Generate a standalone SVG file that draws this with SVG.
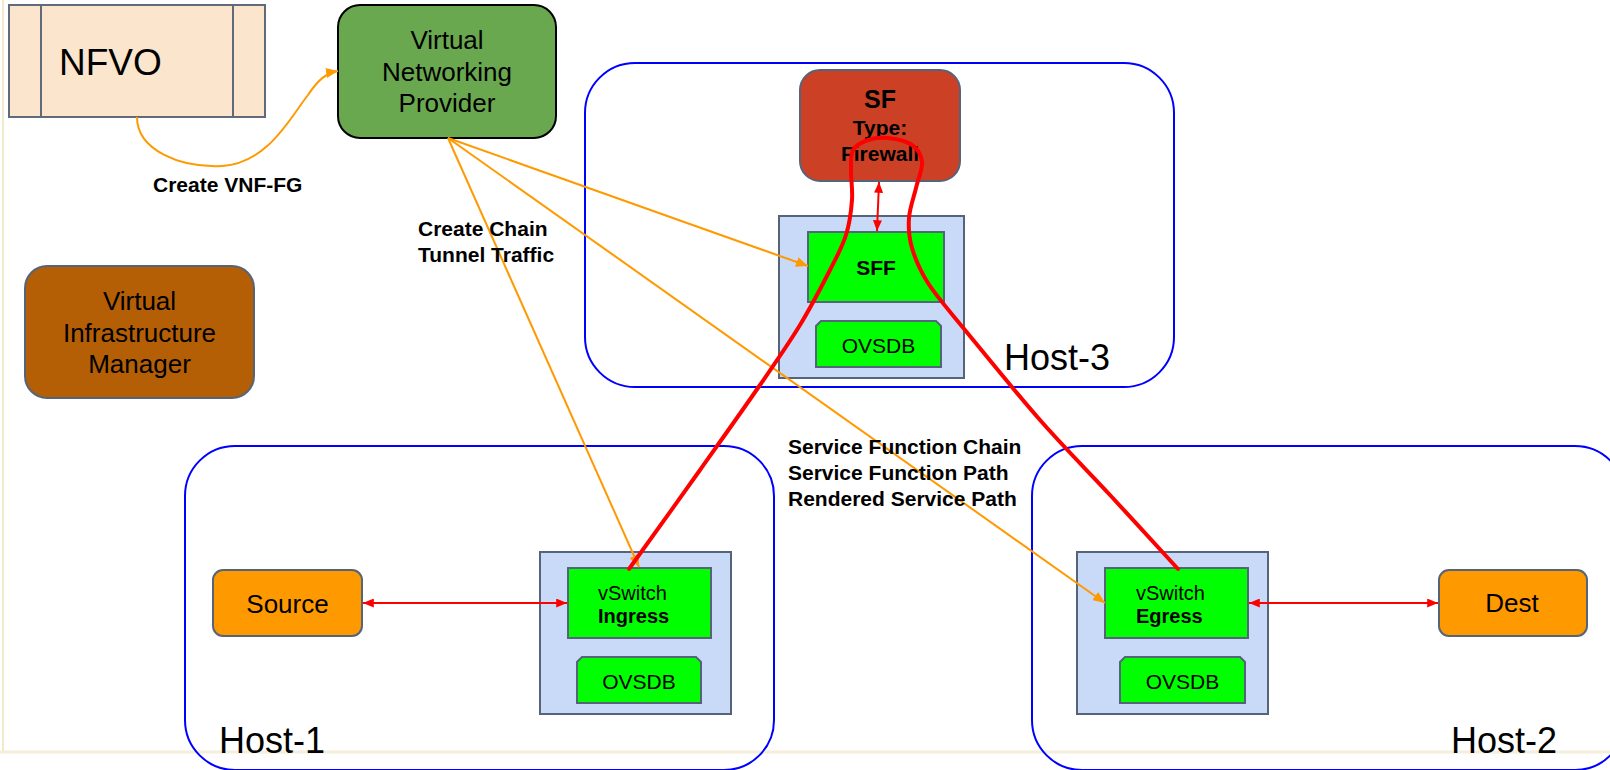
<svg xmlns="http://www.w3.org/2000/svg" width="1610" height="770" viewBox="0 0 1610 770">
<style>
.t{font-family:"Liberation Sans",Arial,sans-serif;fill:#000}
.b{font-weight:bold}
.host{fill:none;stroke:#0000ff;stroke-width:2}
.node{stroke:#56647a;stroke-width:2}
.box{fill:#c9daf8;stroke:#56647a;stroke-width:2}
.grn{fill:#00ff00;stroke:#56647a;stroke-width:2}
.org{fill:none;stroke:#ff9900;stroke-width:2}
.red{fill:none;stroke:#ff0000;stroke-width:2}
</style>
<defs>
<marker id="ao" viewBox="0 0 12 10" refX="12" refY="5" markerWidth="12" markerHeight="10" markerUnits="userSpaceOnUse" orient="auto"><path d="M0,0 L12,5 L0,10 Z" fill="#ff9900"/></marker>
<marker id="ar" viewBox="0 0 12 10" refX="12" refY="5" markerWidth="12" markerHeight="9" markerUnits="userSpaceOnUse" orient="auto-start-reverse"><path d="M0,0 L12,5 L0,10 Z" fill="#ff0000"/></marker>
</defs>
<rect width="1610" height="770" fill="#ffffff"/>
<line x1="3" y1="0" x2="3" y2="752" stroke="#f2e8cc" stroke-width="2"/>
<line x1="0" y1="752" x2="1610" y2="752" stroke="#f5eedb" stroke-width="3"/>

<g id="host3"><rect class="host" x="585" y="63" width="589" height="324" rx="50"/><text class="t" x="1004" y="370" font-size="36">Host-3</text></g>
<g id="host1"><rect class="host" x="185" y="446" width="589" height="324" rx="50"/><text class="t" x="219" y="753" font-size="36">Host-1</text></g>
<g id="host2"><rect class="host" x="1032" y="446" width="593" height="324" rx="50"/><text class="t" x="1451" y="753" font-size="36">Host-2</text></g>

<g id="nfvo"><rect x="9" y="5" width="256" height="112" fill="#fce5cd" stroke="#5f6b7b" stroke-width="2"/><line x1="41" y1="5" x2="41" y2="117" stroke="#5f6b7b" stroke-width="2"/><line x1="233" y1="5" x2="233" y2="117" stroke="#5f6b7b" stroke-width="2"/><text class="t" x="59" y="75" font-size="37">NFVO</text></g>

<g id="vnp"><rect x="338" y="5" width="218" height="133" rx="22" fill="#6aa84f" stroke="#000" stroke-width="2"/><text class="t" x="447" y="49" font-size="26" text-anchor="middle">Virtual</text><text class="t" x="447" y="81" font-size="26" text-anchor="middle">Networking</text><text class="t" x="447" y="112" font-size="26" text-anchor="middle">Provider</text></g>

<g id="vim"><rect class="node" x="25" y="266" width="229" height="132" rx="22" fill="#b45f06"/><text class="t" x="139.5" y="310" font-size="26" text-anchor="middle">Virtual</text><text class="t" x="139.5" y="342" font-size="26" text-anchor="middle">Infrastructure</text><text class="t" x="139.5" y="373" font-size="26" text-anchor="middle">Manager</text></g>

<g id="sf"><rect class="node" x="800" y="70" width="160" height="111" rx="20" fill="#cc4125"/><text class="t b" x="880" y="108" font-size="25" text-anchor="middle">SF</text><text class="t b" x="880" y="135" font-size="21" text-anchor="middle">Type:</text><text class="t b" x="880" y="161" font-size="21" text-anchor="middle">Firewall</text></g>

<g id="sff-host"><rect class="box" x="779" y="216" width="185" height="162"/></g>
<g id="sff"><rect class="grn" x="808" y="232" width="136" height="70"/><text class="t b" x="876" y="275" font-size="21" text-anchor="middle">SFF</text></g>
<g id="ovsdb3"><path class="grn" d="M821,321 H936 L941,326 V367 H816 V326 Z"/><text class="t" x="878.5" y="353" font-size="21" text-anchor="middle">OVSDB</text></g>

<g id="source"><rect class="node" x="213" y="570" width="149" height="66" rx="10" fill="#ff9900"/><text class="t" x="287.5" y="613" font-size="26" text-anchor="middle">Source</text></g>
<g id="ingress-host"><rect class="box" x="540" y="552" width="191" height="162"/></g>
<g id="ingress"><rect class="grn" x="568" y="568" width="143" height="70"/><text class="t" x="598" y="600" font-size="20">vSwitch</text><text class="t b" x="598" y="623" font-size="20">Ingress</text></g>
<g id="ovsdb1"><path class="grn" d="M582,657 H696 L701,662 V703 H577 V662 Z"/><text class="t" x="639" y="689" font-size="21" text-anchor="middle">OVSDB</text></g>

<g id="egress-host"><rect class="box" x="1077" y="552" width="191" height="162"/></g>
<g id="egress"><rect class="grn" x="1105" y="568" width="143" height="70"/><text class="t" x="1136" y="600" font-size="20">vSwitch</text><text class="t b" x="1136" y="623" font-size="20">Egress</text></g>
<g id="ovsdb2"><path class="grn" d="M1125,657 H1240 L1245,662 V703 H1120 V662 Z"/><text class="t" x="1182.5" y="689" font-size="21" text-anchor="middle">OVSDB</text></g>
<g id="dest"><rect class="node" x="1439" y="570" width="148" height="66" rx="10" fill="#ff9900"/><text class="t" x="1512" y="612" font-size="26" text-anchor="middle">Dest</text></g>

<g id="connectors">
<path class="org" d="M137,117 C137,150 180,168 222,166 C268,163 290,118 308,95 C318,80 326,73 338,71" marker-end="url(#ao)"/>
<line class="org" x1="448" y1="138" x2="808" y2="266" marker-end="url(#ao)"/>
<line class="org" x1="448" y1="138" x2="1105" y2="603" marker-end="url(#ao)"/>
<line class="org" x1="448" y1="138" x2="639" y2="567" stroke-width="1.5" marker-end="url(#ao)"/>
<line class="red" x1="879" y1="182" x2="877" y2="231" marker-start="url(#ar)" marker-end="url(#ar)"/>
<line class="red" x1="363" y1="603" x2="567" y2="603" marker-start="url(#ar)" marker-end="url(#ar)"/>
<line class="red" x1="1249" y1="603" x2="1438" y2="603" marker-start="url(#ar)" marker-end="url(#ar)"/>
<path fill="none" stroke="#ff0000" stroke-width="4" stroke-linecap="round" d="M629,569 C640.8,552.5 678.2,500.7 700,470 C721.8,439.3 743.3,409.2 760,385 C776.7,360.8 788.3,344.2 800,325 C811.7,305.8 822.3,285 830,270 C837.7,255 842.3,246.7 846,235 C849.7,223.3 851.2,210.8 852,200 C852.8,189.2 850.8,178.3 851,170 C851.2,161.7 850.2,155 853,150 C855.8,145 862.2,142 868,140 C873.8,138 880.7,137.2 888,138 C895.3,138.8 906.3,141 912,145 C917.7,149 921.3,154.8 922,162 C922.7,169.2 918.2,178.7 916,188 C913.8,197.3 909.7,208 909,218 C908.3,228 908.8,237.2 912,248 C915.2,258.8 919.2,269.3 928,283 C936.8,296.7 946.3,307.2 965,330 C983.7,352.8 1015.8,392.5 1040,420 C1064.2,447.5 1087,470.2 1110,495 C1133,519.8 1166.7,556.7 1178,569"/>
</g>

<g id="labels">
<text class="t b" x="153" y="192" font-size="21">Create VNF-FG</text>
<text class="t b" x="418" y="236" font-size="21">Create Chain</text>
<text class="t b" x="418" y="262" font-size="21">Tunnel Traffic</text>
<text class="t b" x="788" y="454" font-size="21">Service Function Chain</text>
<text class="t b" x="788" y="480" font-size="21">Service Function Path</text>
<text class="t b" x="788" y="506" font-size="21">Rendered Service Path</text>
</g>
</svg>
